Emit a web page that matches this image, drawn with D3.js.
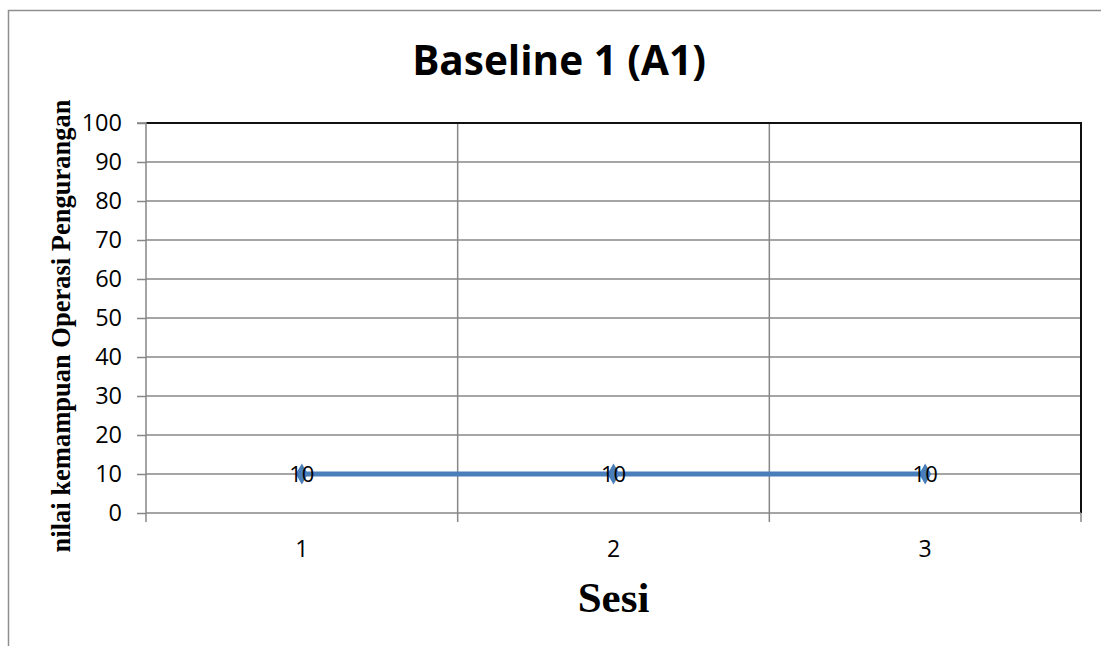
<!DOCTYPE html>
<html>
<head>
<meta charset="utf-8">
<script src="https://cdn.jsdelivr.net/npm/d3@7/dist/d3.min.js"></script>
<style>
  html, body { margin: 0; padding: 0; background: #fff; }
  svg { display: block; }
</style>
</head>
<body>
<svg id="chart" width="1101" height="646"></svg>
<script>
// Session categories and scores
const sessions = ["1", "2", "3"];
const scores = [10, 10, 10];
const yTicks = [0, 10, 20, 30, 40, 50, 60, 70, 80, 90, 100];

const svg = d3.select("#chart");
const W = 1101, H = 646;
const margin = { left: 146, right: 20, top: 123, bottom: 133 };
const plotW = 1081 - margin.left;
const plotH = 513 - margin.top;

// Chart frame (runs off the right and bottom edges)
svg.append("rect")
  .attr("x", 8.5).attr("y", 10.5)
  .attr("width", W + 20).attr("height", H + 20)
  .attr("fill", "#fff")
  .attr("stroke", "#8f8f8f").attr("stroke-width", 1.5);

const g = svg.append("g").attr("transform", `translate(${margin.left},${margin.top})`);

const x = d3.scaleBand().domain(sessions).range([0, plotW]).padding(0);
const y = d3.scaleLinear().domain([0, 100]).range([plotH, 0]);

// Horizontal gridlines
g.append("g").selectAll("line")
  .data(yTicks.filter(t => t > 0 && t < 100))
  .join("line")
  .attr("x1", 0).attr("x2", plotW)
  .attr("y1", d => y(d)).attr("y2", d => y(d))
  .attr("stroke", "#878787").attr("stroke-width", 1.5);

// Vertical gridlines at category boundaries
const bounds = sessions.map(s => x(s)).concat([plotW]);
g.append("g").selectAll("line")
  .data(bounds.slice(1, -1))
  .join("line")
  .attr("x1", d => d).attr("x2", d => d)
  .attr("y1", 0).attr("y2", plotH)
  .attr("stroke", "#878787").attr("stroke-width", 1.5);

// Plot area top and right border
g.append("path")
  .attr("d", `M0,${y(100)}H${plotW}V${plotH}`)
  .attr("fill", "none")
  .attr("stroke", "#111").attr("stroke-width", 2);

// Y axis
const yAxis = g.append("g")
  .call(d3.axisLeft(y).tickValues(yTicks).tickSize(9).tickPadding(15));
yAxis.select(".domain").attr("stroke", "#878787").attr("stroke-width", 1.5)
  .attr("d", `M-9,0H0V${plotH}`);
yAxis.selectAll(".tick line").attr("stroke", "#878787").attr("stroke-width", 1.5);
yAxis.selectAll(".tick text")
  .attr("font-family", "'Open Sans', sans-serif")
  .attr("font-size", 23.5).attr("fill", "#000");

// X axis baseline with ticks at category boundaries
const xAxisG = g.append("g").attr("transform", `translate(0,${plotH})`);
xAxisG.append("line")
  .attr("x1", 0).attr("x2", plotW)
  .attr("stroke", "#878787").attr("stroke-width", 1.5);
xAxisG.selectAll("line.tk")
  .data(bounds)
  .join("line").attr("class", "tk")
  .attr("x1", d => d).attr("x2", d => d)
  .attr("y1", 0).attr("y2", 9)
  .attr("stroke", "#878787").attr("stroke-width", 1.5);
xAxisG.selectAll("text")
  .data(sessions)
  .join("text")
  .attr("x", d => x(d) + x.bandwidth() / 2)
  .attr("y", 44)
  .attr("text-anchor", "middle")
  .attr("font-family", "'Open Sans', sans-serif")
  .attr("font-size", 23).attr("fill", "#000")
  .text(d => d);

// Series line
const pts = sessions.map((s, i) => ({ s, v: scores[i] }));
const line = d3.line().x(d => x(d.s) + x.bandwidth() / 2).y(d => y(d.v));
g.append("path")
  .datum(pts)
  .attr("d", line)
  .attr("fill", "none")
  .attr("stroke", "#4a7ebb").attr("stroke-width", 5);

// Diamond markers
g.selectAll("path.mk")
  .data(pts)
  .join("path").attr("class", "mk")
  .attr("transform", d => `translate(${x(d.s) + x.bandwidth() / 2},${y(d.v)})`)
  .attr("d", d3.symbol().type(d3.symbolDiamond).size(130))
  .attr("fill", "#4a7ebb");

// Value labels
g.selectAll("text.lbl")
  .data(pts)
  .join("text").attr("class", "lbl")
  .attr("x", d => x(d.s) + x.bandwidth() / 2)
  .attr("y", d => y(d.v))
  .attr("dy", "0.36em")
  .attr("text-anchor", "middle")
  .attr("font-family", "'Open Sans', sans-serif")
  .attr("font-size", 22).attr("fill", "#000")
  .text(d => d.v);

// Title
svg.append("text")
  .attr("x", 559).attr("y", 75)
  .attr("text-anchor", "middle")
  .attr("font-family", "'Open Sans', sans-serif")
  .attr("font-weight", "bold")
  .attr("font-size", 40.5).attr("fill", "#000")
  .text("Baseline 1 (A1)");

// X axis title
svg.append("text")
  .attr("x", margin.left + plotW / 2).attr("y", 612)
  .attr("text-anchor", "middle")
  .attr("font-family", "'Liberation Serif', serif")
  .attr("font-weight", "bold")
  .attr("font-size", 43).attr("fill", "#000")
  .text("Sesi");

// Y axis title
svg.append("text")
  .attr("transform", "translate(70,326) rotate(-90)")
  .attr("text-anchor", "middle")
  .attr("font-family", "'Liberation Serif', serif")
  .attr("font-weight", "bold")
  .attr("font-size", 26.5).attr("fill", "#000")
  .text("nilai kemampuan Operasi Pengurangan");
</script>
</body>
</html>
